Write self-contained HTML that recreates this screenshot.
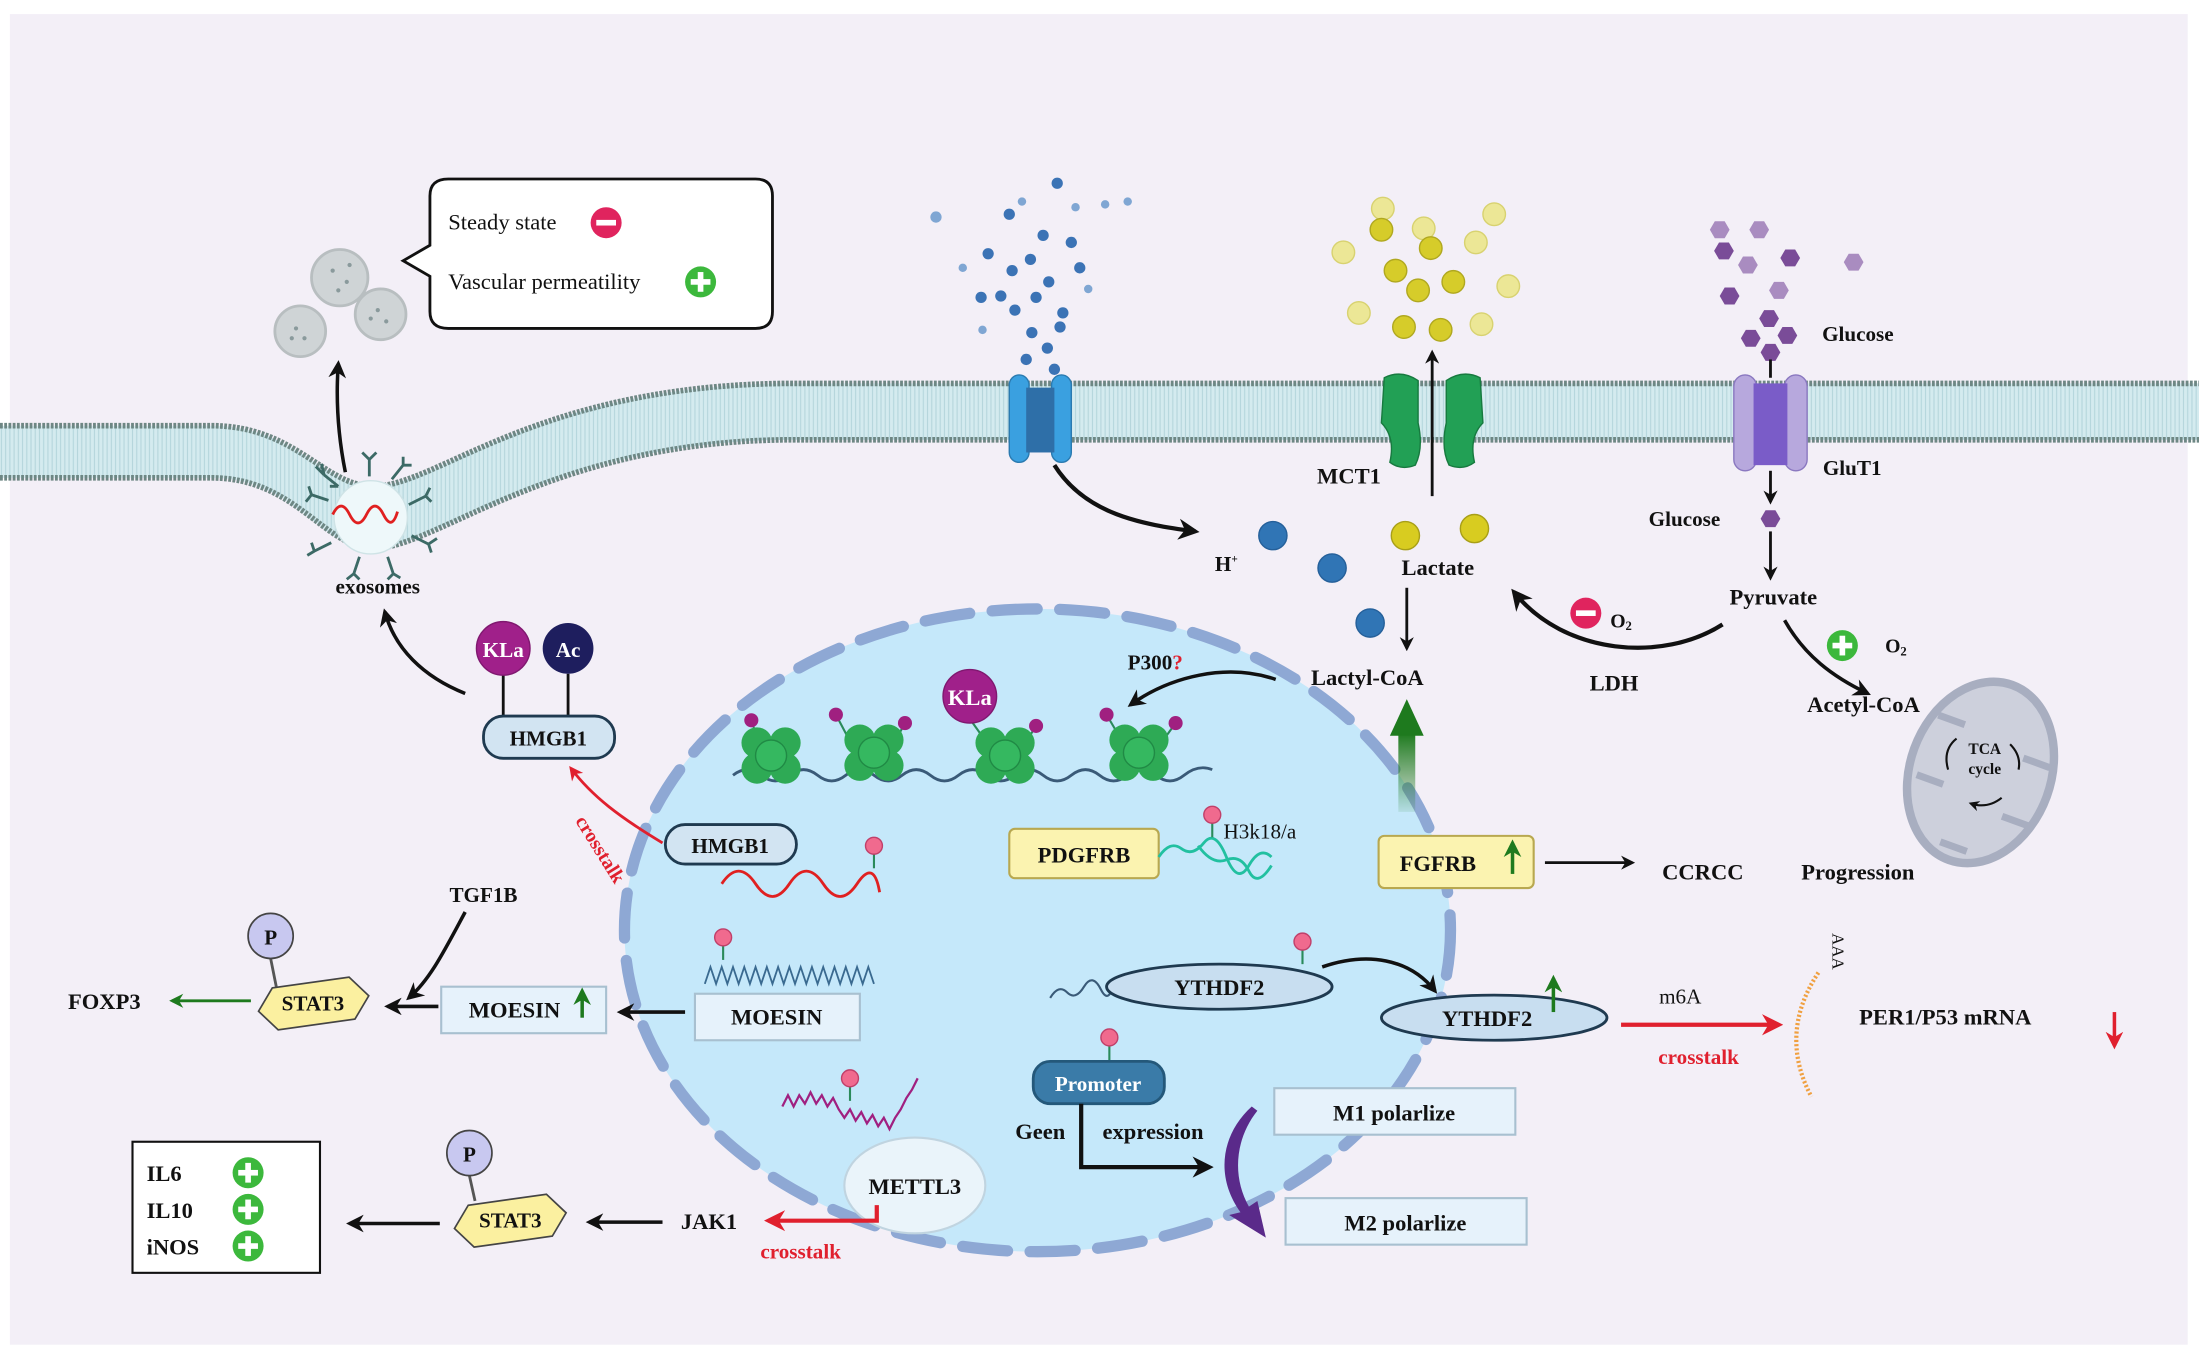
<!DOCTYPE html>
<html><head><meta charset="utf-8"><style>
html,body{margin:0;padding:0;background:#fff;}
svg{display:block;}
text{font-family:"Liberation Serif",serif;font-weight:bold;fill:#111;}
</style></head><body>
<svg width="2199" height="1356" viewBox="0 0 1560 962" preserveAspectRatio="none" xmlns="http://www.w3.org/2000/svg">
<defs>
<marker id="ab" viewBox="0 0 10 10" refX="8" refY="5" markerWidth="5" markerHeight="5" orient="auto"><path d="M0,0 L10,5 L0,10 L3,5z" fill="#111"/></marker>
<marker id="ar" viewBox="0 0 10 10" refX="8" refY="5" markerWidth="5" markerHeight="5" orient="auto"><path d="M0,0 L10,5 L0,10 L3,5z" fill="#e0202e"/></marker>
<marker id="ag" viewBox="0 0 10 10" refX="8" refY="5" markerWidth="5" markerHeight="5" orient="auto"><path d="M0,0 L10,5 L0,10 L3,5z" fill="#1e7a1e"/></marker>
<pattern id="hatch" width="3" height="10" patternUnits="userSpaceOnUse"><rect width="3" height="10" fill="#d4ebef"/><line x1="1" y1="0" x2="1" y2="10" stroke="#b5d6dc" stroke-width="0.8"/></pattern>
<linearGradient id="gg" x1="0" y1="1" x2="0" y2="0"><stop offset="0" stop-color="#1e7a1e" stop-opacity="0.1"/><stop offset="1" stop-color="#1e7a1e"/></linearGradient>
<g id="lolly"><line x1="0" y1="0" x2="0" y2="14" stroke="#2a8a5a" stroke-width="1.5"/><circle cx="0" cy="-2" r="6" fill="#f06a8e" stroke="#c0406a" stroke-width="1"/></g>
<g id="nuc"><circle cx="-10" cy="-8" r="11" fill="#2eaa55"/><circle cx="10" cy="-8" r="11" fill="#2eaa55"/><circle cx="-10" cy="10" r="11" fill="#2eaa55"/><circle cx="10" cy="10" r="11" fill="#2eaa55"/><circle cx="0" cy="1" r="11" fill="#35b860" stroke="#208a45" stroke-width="1"/></g>
<g id="hexA"><polygon points="-7,0 -3.5,-6 3.5,-6 7,0 3.5,6 -3.5,6" /></g>
</defs>
<rect width="1560" height="962" fill="#fff"/>
<rect x="7" y="10" width="1545" height="944" fill="#f3eff7"/>

<path d="M0,302 L150,302 C210,302 230,345 265,345 C310,345 380,273 560,272 L1560,272 L1560,312 L560,312 C390,313 310,389 265,389 C225,389 210,339 150,339 L0,339Z" fill="url(#hatch)"/>
<path d="M0,302 L150,302 C210,302 230,345 265,345 C310,345 380,273 560,272 L1560,272" fill="none" stroke="#6e8784" stroke-width="4" stroke-dasharray="2 1"/>
<path d="M0,339 L150,339 C210,339 230,389 265,389 C310,389 390,313 560,312 L1560,312" fill="none" stroke="#6e8784" stroke-width="4" stroke-dasharray="2 1"/>

<circle cx="263" cy="367" r="26" fill="#eef8fa" stroke="#cfe3e6"/>
<path d="M236,365 q6,-12 12,0 t12,0 t12,0 t10,-2" fill="none" stroke="#e02020" stroke-width="2"/>
<g stroke="#3c6a66" stroke-width="2" fill="none">
<path d="M240,345 l-10,-8 m10,8 l-6,0 M278,340 l8,-10 M290,358 l12,-6 M292,380 l12,6 M275,395 l4,12 M255,395 l-4,12 M235,385 l-12,6 M233,355 l-12,-4 M262,338 l0,-12 M262,326 l-5,-5 M262,326 l5,-5 M230,337 l-6,-6 M230,337 l-2,-8 M286,330 l6,0 M286,330 l0,-6 M302,352 l3,-6 M302,352 l4,4 M304,386 l6,-4 M304,386 l2,6 M279,407 l-4,4 M279,407 l5,3 M251,407 l-5,4 M251,407 l4,4 M223,391 l-2,-6 M223,391 l-5,3 M221,351 l-4,5 M221,351 l-2,-6"/>
</g>
<text x="268" y="421" font-size="15" text-anchor="middle">exosomes</text>
<path d="M245,335 C240,310 238,285 240,258" fill="none" stroke="#111" stroke-width="2.5" marker-end="url(#ab)"/>
<g fill="#cfd4d6" stroke="#b8bec0" stroke-width="2"><circle cx="241" cy="197" r="20"/><circle cx="270" cy="223" r="18"/><circle cx="213" cy="235" r="18"/></g>
<g fill="#8a9a9c"><circle cx="236" cy="192" r="1.5"/><circle cx="246" cy="200" r="1.5"/><circle cx="240" cy="206" r="1.5"/><circle cx="268" cy="220" r="1.5"/><circle cx="274" cy="228" r="1.5"/><circle cx="210" cy="233" r="1.5"/><circle cx="216" cy="240" r="1.5"/><circle cx="248" cy="188" r="1.5"/><circle cx="263" cy="226" r="1.5"/><circle cx="207" cy="240" r="1.5"/></g>
<path d="M318,127 H536 Q548,127 548,139 V221 Q548,233 536,233 H318 Q305,233 305,221 V196 L286,185 L305,174 V139 Q305,127 318,127Z" fill="#fff" stroke="#111" stroke-width="2"/>
<text x="318" y="163" font-size="16" style="font-weight:normal">Steady state</text>
<circle cx="430" cy="158" r="11" fill="#e0245e"/><rect x="423" y="156" width="14" height="4" fill="#fff"/>
<text x="318" y="205" font-size="16" style="font-weight:normal">Vascular permeatility</text>
<circle cx="497" cy="200" r="11" fill="#3cb83c"/><rect x="490" y="198" width="14" height="4" fill="#fff"/><rect x="495" y="193" width="4" height="14" fill="#fff"/>

<g fill="#3b73b5">
<circle cx="750" cy="130" r="4"/><circle cx="716" cy="152" r="4"/><circle cx="740" cy="167" r="4"/><circle cx="731" cy="184" r="4"/><circle cx="718" cy="192" r="4"/><circle cx="701" cy="180" r="4"/><circle cx="720" cy="220" r="4"/><circle cx="760" cy="172" r="4"/><circle cx="766" cy="190" r="4"/><circle cx="744" cy="200" r="4"/><circle cx="696" cy="211" r="4"/><circle cx="732" cy="236" r="4"/><circle cx="752" cy="232" r="4"/><circle cx="743" cy="247" r="4"/><circle cx="728" cy="255" r="4"/><circle cx="748" cy="262" r="4"/><circle cx="754" cy="222" r="4"/><circle cx="710" cy="210" r="4"/><circle cx="735" cy="211" r="4"/>
</g>
<g fill="#7fa6d3"><circle cx="664" cy="154" r="4"/><circle cx="683" cy="190" r="3"/><circle cx="697" cy="234" r="3"/><circle cx="763" cy="147" r="3"/><circle cx="784" cy="145" r="3"/><circle cx="800" cy="143" r="3"/><circle cx="772" cy="205" r="3"/><circle cx="725" cy="143" r="3"/></g>
<rect x="716" y="266" width="14" height="62" rx="7" fill="#3aa0e0" stroke="#2a7ab0"/>
<rect x="746" y="266" width="14" height="62" rx="7" fill="#3aa0e0" stroke="#2a7ab0"/>
<rect x="728" y="275" width="20" height="46" fill="#2e6fa8"/>
<path d="M748,330 C770,365 810,372 848,377" fill="none" stroke="#111" stroke-width="3" marker-end="url(#ab)"/>

<g fill="#ece796" stroke="#d8d270"><circle cx="1010" cy="162" r="8"/><circle cx="1060" cy="152" r="8"/><circle cx="953" cy="179" r="8"/><circle cx="1047" cy="172" r="8"/><circle cx="1070" cy="203" r="8"/><circle cx="964" cy="222" r="8"/><circle cx="1051" cy="230" r="8"/><circle cx="981" cy="148" r="8"/></g>
<g fill="#d6cc2a" stroke="#b0a820"><circle cx="980" cy="163" r="8"/><circle cx="1015" cy="176" r="8"/><circle cx="990" cy="192" r="8"/><circle cx="1006" cy="206" r="8"/><circle cx="1031" cy="200" r="8"/><circle cx="996" cy="232" r="8"/><circle cx="1022" cy="234" r="8"/></g>
<path d="M982,268 Q994,262 1006,270 L1006,300 Q1010,318 1004,330 Q994,334 986,328 Q990,310 980,300Z" fill="#22a055" stroke="#177a3f"/>
<path d="M1050,268 Q1038,262 1026,270 L1026,300 Q1022,318 1028,330 Q1038,334 1046,328 Q1042,310 1052,300Z" fill="#22a055" stroke="#177a3f"/>
<line x1="1016" y1="352" x2="1016" y2="250" stroke="#111" stroke-width="2" marker-end="url(#ab)"/>
<text x="957" y="343" font-size="16" text-anchor="middle">MCT1</text>
<text x="870" y="405" font-size="15" text-anchor="middle">H<tspan font-size="8" dy="-6">+</tspan></text>
<g fill="#3075b5" stroke="#25609a"><circle cx="903" cy="380" r="10"/><circle cx="945" cy="403" r="10"/><circle cx="972" cy="442" r="10"/></g>
<g fill="#d8cc20" stroke="#a89f18"><circle cx="997" cy="380" r="10"/><circle cx="1046" cy="375" r="10"/></g>
<text x="1020" y="408" font-size="16" text-anchor="middle">Lactate</text>
<line x1="998" y1="417" x2="998" y2="460" stroke="#111" stroke-width="2" marker-end="url(#ab)"/>
<text x="970" y="486" font-size="16" text-anchor="middle">Lactyl-CoA</text>

<g fill="#a98cc0"><use href="#hexA" x="1220" y="163"/><use href="#hexA" x="1248" y="163"/><use href="#hexA" x="1240" y="188"/><use href="#hexA" x="1315" y="186"/><use href="#hexA" x="1262" y="206"/></g>
<g fill="#7a4c98"><use href="#hexA" x="1223" y="178"/><use href="#hexA" x="1270" y="183"/><use href="#hexA" x="1227" y="210"/><use href="#hexA" x="1255" y="226"/><use href="#hexA" x="1242" y="240"/><use href="#hexA" x="1268" y="238"/><use href="#hexA" x="1256" y="250"/></g>
<text x="1318" y="242" font-size="15" text-anchor="middle">Glucose</text>
<line x1="1256" y1="255" x2="1256" y2="268" stroke="#111" stroke-width="2"/>
<rect x="1230" y="266" width="16" height="68" rx="8" fill="#b7a8dd" stroke="#8a78c0"/>
<rect x="1266" y="266" width="16" height="68" rx="8" fill="#b7a8dd" stroke="#8a78c0"/>
<rect x="1244" y="272" width="24" height="58" fill="#7a5cc8"/>
<text x="1314" y="337" font-size="15" text-anchor="middle">GluT1</text>
<line x1="1256" y1="334" x2="1256" y2="356" stroke="#111" stroke-width="2" marker-end="url(#ab)"/>
<use href="#hexA" x="1256" y="368" fill="#7a4c98"/>
<text x="1195" y="373" font-size="15" text-anchor="middle">Glucose</text>
<line x1="1256" y1="377" x2="1256" y2="410" stroke="#111" stroke-width="2" marker-end="url(#ab)"/>
<text x="1258" y="429" font-size="16" text-anchor="middle">Pyruvate</text>
<path d="M1222,443 C1180,470 1110,465 1074,420" fill="none" stroke="#111" stroke-width="3" marker-end="url(#ab)"/>
<circle cx="1125" cy="435" r="11" fill="#e0245e"/><rect x="1118" y="433" width="14" height="4" fill="#fff"/>
<text x="1150" y="445" font-size="14" text-anchor="middle">O<tspan font-size="9" dy="2">2</tspan></text>
<text x="1145" y="490" font-size="16" text-anchor="middle">LDH</text>
<!-- mitochondrion -->
<g transform="rotate(20 1405 548)"><ellipse cx="1405" cy="548" rx="50" ry="66" fill="#cdd0dc" stroke="#a8aec0" stroke-width="6"/>
<path d="M1363,520 h20 M1430,528 h20 M1363,565 h20 M1430,572 h20 M1395,604 h20" stroke="#a8aec0" stroke-width="5"/></g>
<text x="1408" y="535" font-size="11" text-anchor="middle">TCA</text><text x="1408" y="549" font-size="11" text-anchor="middle">cycle</text>
<path d="M1388,524 q-10,8 -6,22 M1426,528 q8,8 6,18 M1420,566 q-10,8 -22,4" fill="none" stroke="#111" stroke-width="1.5" marker-end="url(#ab)"/>
<path d="M1266,440 C1280,465 1300,480 1325,492" fill="none" stroke="#111" stroke-width="2.5" marker-end="url(#ab)"/>
<circle cx="1307" cy="458" r="11" fill="#3cb83c"/><rect x="1300" y="456" width="14" height="4" fill="#fff"/><rect x="1305" y="451" width="4" height="14" fill="#fff"/>
<text x="1345" y="463" font-size="14" text-anchor="middle">O<tspan font-size="9" dy="2">2</tspan></text>
<text x="1322" y="505" font-size="16" text-anchor="middle">Acetyl-CoA</text>

<ellipse cx="736" cy="660" rx="293" ry="228" fill="#c5e8fa"/>
<ellipse cx="736" cy="660" rx="293" ry="228" fill="none" stroke="#8ea8d4" stroke-width="8" stroke-dasharray="32 16" stroke-linecap="round"/>

<path d="M520,550 q10,-8 20,0 t20,0 t20,0 t20,0 t20,0 t20,0 t20,0 t20,0 t20,0 t20,0 t20,0 t20,0 t20,0 t20,0 t20,0 t20,0 t20,-4" fill="none" stroke="#3a5a78" stroke-width="2"/>
<g stroke="#2a8a5a" stroke-width="1.5"><line x1="533" y1="511" x2="538" y2="526"/><line x1="593" y1="507" x2="602" y2="524"/><line x1="642" y1="513" x2="636" y2="524"/><line x1="735" y1="515" x2="728" y2="526"/><line x1="785" y1="507" x2="795" y2="524"/><line x1="834" y1="513" x2="826" y2="524"/><line x1="688" y1="510" x2="698" y2="524"/></g>
<use href="#nuc" x="547" y="535"/><use href="#nuc" x="620" y="533"/><use href="#nuc" x="713" y="535"/><use href="#nuc" x="808" y="533"/>
<g fill="#a02080"><circle cx="533" cy="511" r="5"/><circle cx="593" cy="507" r="5"/><circle cx="642" cy="513" r="5"/><circle cx="735" cy="515" r="5"/><circle cx="785" cy="507" r="5"/><circle cx="834" cy="513" r="5"/></g>
<circle cx="688" cy="494" r="19" fill="#a0208a" stroke="#801870"/>
<text x="688" y="500" font-size="16" text-anchor="middle" style="fill:#fff">KLa</text>
<path d="M905,482 C870,470 830,480 802,500" fill="none" stroke="#111" stroke-width="2.5" marker-end="url(#ab)"/>
<text x="800" y="475" font-size="15">P300<tspan style="fill:#e0202e">?</tspan></text>

<line x1="357" y1="478" x2="357" y2="510" stroke="#111" stroke-width="2"/><line x1="403" y1="478" x2="403" y2="510" stroke="#111" stroke-width="2"/>
<circle cx="357" cy="460" r="19" fill="#a0208a" stroke="#801870"/><text x="357" y="466" font-size="15" text-anchor="middle" style="fill:#fff">KLa</text>
<circle cx="403" cy="460" r="18" fill="#1e1e5e"/><text x="403" y="466" font-size="15" text-anchor="middle" style="fill:#fff">Ac</text>
<rect x="343" y="508" width="93" height="30" rx="14" fill="#d2e4f2" stroke="#1f3a50" stroke-width="2"/>
<text x="389" y="529" font-size="15" text-anchor="middle">HMGB1</text>
<path d="M330,492 C300,480 280,460 273,434" fill="none" stroke="#111" stroke-width="2.5" marker-end="url(#ab)"/>
<path d="M470,598 C440,580 420,565 405,545" fill="none" stroke="#e0202e" stroke-width="2" marker-end="url(#ar)"/>
<text x="422" y="605" font-size="14" style="fill:#e0202e" transform="rotate(58 422 605)" text-anchor="middle">crosstalk</text>
<rect x="472" y="585" width="93" height="28" rx="14" fill="#d2e4f2" stroke="#1f3a50" stroke-width="2"/>
<text x="518" y="605" font-size="15" text-anchor="middle">HMGB1</text>
<path d="M512,627 q12,-18 24,0 t24,0 t24,0 t24,0 t16,6" fill="none" stroke="#e02020" stroke-width="2"/>
<use href="#lolly" x="620" y="602"/>

<rect x="716" y="588" width="106" height="35" rx="4" fill="#fbf3b0" stroke="#b8a850" stroke-width="1.5"/>
<text x="769" y="612" font-size="16" text-anchor="middle">PDGFRB</text>
<path d="M822,608 q8,-12 16,-6 t16,-4 t16,10 t16,6 t16,-6" fill="none" stroke="#22c0a0" stroke-width="2"/>
<path d="M850,600 q10,14 20,10 t16,8 t16,-4" fill="none" stroke="#22c0a0" stroke-width="2"/>
<use href="#lolly" x="860" y="580"/>
<text x="868" y="595" font-size="15" style="font-weight:normal">H3k18/a</text>

<rect x="992" y="520" width="12" height="56" fill="url(#gg)"/>
<polygon points="986,522 998,496 1010,522" fill="#1e7a1e"/>
<rect x="978" y="593" width="110" height="37" rx="4" fill="#fbf3b0" stroke="#b8a850" stroke-width="1.5"/>
<text x="1020" y="618" font-size="16" text-anchor="middle">FGFRB</text>
<line x1="1073" y1="620" x2="1073" y2="598" stroke="#1e7a1e" stroke-width="2.5" marker-end="url(#ag)"/>
<line x1="1096" y1="612" x2="1158" y2="612" stroke="#111" stroke-width="2" marker-end="url(#ab)"/>
<text x="1208" y="624" font-size="16" text-anchor="middle">CCRCC</text>
<text x="1318" y="624" font-size="16" text-anchor="middle">Progression</text>

<path d="M500,698 l4,-12 l4,12 l4,-12 l4,12 l4,-12 l4,12 l4,-12 l4,12 l4,-12 l4,12 l4,-12 l4,12 l4,-12 l4,12 l4,-12 l4,12 l4,-12 l4,12 l4,-12 l4,12 l4,-12 l4,12 l4,-12 l4,12 l4,-12 l4,12 l4,-12 l4,12 l4,-12 l4,12" fill="none" stroke="#3a6a90" stroke-width="1.3"/>
<use href="#lolly" x="513" y="667"/>
<rect x="493" y="705" width="117" height="33" fill="#e6f2fb" stroke="#a8c0d0" stroke-width="1.5"/>
<text x="551" y="727" font-size="16" text-anchor="middle">MOESIN</text>
<line x1="486" y1="718" x2="440" y2="718" stroke="#111" stroke-width="2.5" marker-end="url(#ab)"/>
<rect x="313" y="700" width="117" height="33" fill="#e6f2fb" stroke="#a8c0d0" stroke-width="1.5"/>
<text x="365" y="722" font-size="16" text-anchor="middle">MOESIN</text>
<line x1="413" y1="722" x2="413" y2="703" stroke="#1e7a1e" stroke-width="2.5" marker-end="url(#ag)"/>
<text x="343" y="640" font-size="15" text-anchor="middle">TGF1B</text>
<path d="M330,647 C315,675 305,695 290,708" fill="none" stroke="#111" stroke-width="2.5" marker-end="url(#ab)"/>
<line x1="311" y1="714" x2="275" y2="714" stroke="#111" stroke-width="2.5" marker-end="url(#ab)"/>
<line x1="192" y1="680" x2="196" y2="700" stroke="#555" stroke-width="2"/>
<circle cx="192" cy="664" r="16" fill="#c8c8f0" stroke="#444" stroke-width="1.2"/><text x="192" y="670" font-size="15" text-anchor="middle">P</text>
<polygon points="183,712 195,697 250,697 262,712 250,727 195,727" fill="#fbf0a0" stroke="#444" stroke-width="1.2" transform="rotate(-8 222 712)"/>
<text x="222" y="717" font-size="15" text-anchor="middle">STAT3</text>
<line x1="178" y1="710" x2="122" y2="710" stroke="#1e7a1e" stroke-width="2" marker-end="url(#ag)"/>
<text x="74" y="716" font-size="16" text-anchor="middle">FOXP3</text>

<path d="M745,708 q6,-10 12,-4 t12,-4 t12,2 t10,-8" fill="none" stroke="#3a5a78" stroke-width="1.5"/>
<ellipse cx="865" cy="700" rx="80" ry="16" fill="#c8def0" stroke="#1f3a50" stroke-width="2"/>
<text x="865" y="706" font-size="16" text-anchor="middle">YTHDF2</text>
<use href="#lolly" x="924" y="670"/>
<path d="M938,686 C970,675 1000,680 1018,703" fill="none" stroke="#111" stroke-width="2.5" marker-end="url(#ab)"/>
<ellipse cx="1060" cy="722" rx="80" ry="16" fill="#c8def0" stroke="#1f3a50" stroke-width="2"/>
<text x="1055" y="728" font-size="16" text-anchor="middle">YTHDF2</text>
<line x1="1102" y1="718" x2="1102" y2="694" stroke="#1e7a1e" stroke-width="2.5" marker-end="url(#ag)"/>
<text x="1192" y="712" font-size="15" text-anchor="middle" style="font-weight:normal">m6A</text>
<line x1="1150" y1="727" x2="1262" y2="727" stroke="#e0202e" stroke-width="3" marker-end="url(#ar)"/>
<text x="1205" y="755" font-size="15" text-anchor="middle" style="fill:#e0202e">crosstalk</text>
<path d="M1290,690 C1270,720 1270,750 1285,778" fill="none" stroke="#f0a040" stroke-width="3" stroke-dasharray="1.5 1.5"/>
<text x="1300" y="662" font-size="12" transform="rotate(90 1300 662)" style="font-weight:normal">AAA</text>
<text x="1380" y="727" font-size="16" text-anchor="middle">PER1/P53 mRNA</text>
<line x1="1500" y1="718" x2="1500" y2="742" stroke="#e0202e" stroke-width="2.5" marker-end="url(#ar)"/>

<use href="#lolly" x="787" y="738"/>
<rect x="733" y="753" width="93" height="30" rx="12" fill="#3a7ba8" stroke="#24587a" stroke-width="2"/>
<text x="779" y="774" font-size="15" text-anchor="middle" style="fill:#fff">Promoter</text>
<text x="738" y="808" font-size="16" text-anchor="middle">Geen</text>
<text x="818" y="808" font-size="16" text-anchor="middle">expression</text>
<path d="M767,783 V828 H858" fill="none" stroke="#111" stroke-width="3" marker-end="url(#ab)"/>
<rect x="904" y="772" width="171" height="33" fill="#e6f2fb" stroke="#a8c0d0" stroke-width="1.5"/>
<text x="989" y="795" font-size="16" text-anchor="middle">M1 polarlize</text>
<rect x="912" y="850" width="171" height="33" fill="#e6f2fb" stroke="#a8c0d0" stroke-width="1.5"/>
<text x="997" y="873" font-size="16" text-anchor="middle">M2 polarlize</text>
<path d="M888,785 C866,805 862,835 880,860 L872,862 L898,878 L892,852 L886,856 C874,835 876,808 892,788Z" fill="#5a2a8a"/>

<path d="M555,785 l4,-8 l4,8 l4,-8 l4,6 l4,-8 l4,8 l4,-6 l4,8 l4,-6 l4,8 l4,6 l4,-6 l4,8 l4,-6 l4,8 l4,-6 l4,8 l4,-6 l4,8 l4,-8 l4,-6 l4,-8 l4,-6 l4,-8" fill="none" stroke="#a02080" stroke-width="1.6"/>
<use href="#lolly" x="603" y="767"/>
<ellipse cx="649" cy="841" rx="50" ry="34" fill="#eaf4fa" stroke="#c0d4e0" stroke-width="1.5"/>
<text x="649" y="847" font-size="16" text-anchor="middle">METTL3</text>
<path d="M622,855 V866 H545" fill="none" stroke="#e0202e" stroke-width="3" marker-end="url(#ar)"/>
<text x="568" y="893" font-size="15" text-anchor="middle" style="fill:#e0202e">crosstalk</text>
<text x="503" y="872" font-size="16" text-anchor="middle">JAK1</text>
<line x1="470" y1="867" x2="418" y2="867" stroke="#111" stroke-width="2.5" marker-end="url(#ab)"/>
<line x1="333" y1="834" x2="337" y2="852" stroke="#555" stroke-width="2"/>
<circle cx="333" cy="818" r="16" fill="#c8c8f0" stroke="#444" stroke-width="1.2"/><text x="333" y="824" font-size="15" text-anchor="middle">P</text>
<polygon points="322,866 334,851 390,851 402,866 390,881 334,881" fill="#fbf0a0" stroke="#444" stroke-width="1.2" transform="rotate(-8 362 866)"/>
<text x="362" y="871" font-size="15" text-anchor="middle">STAT3</text>
<line x1="312" y1="868" x2="248" y2="868" stroke="#111" stroke-width="2.5" marker-end="url(#ab)"/>
<rect x="94" y="810" width="133" height="93" fill="#fff" stroke="#111" stroke-width="1.5"/>
<text x="104" y="838" font-size="16">IL6</text><text x="104" y="864" font-size="16">IL10</text><text x="104" y="890" font-size="16">iNOS</text>
<g><circle cx="176" cy="832" r="11" fill="#3cb83c"/><rect x="169" y="830" width="14" height="4" fill="#fff"/><rect x="174" y="825" width="4" height="14" fill="#fff"/>
<circle cx="176" cy="858" r="11" fill="#3cb83c"/><rect x="169" y="856" width="14" height="4" fill="#fff"/><rect x="174" y="851" width="4" height="14" fill="#fff"/>
<circle cx="176" cy="884" r="11" fill="#3cb83c"/><rect x="169" y="882" width="14" height="4" fill="#fff"/><rect x="174" y="877" width="4" height="14" fill="#fff"/></g>
</svg>
</body></html>
